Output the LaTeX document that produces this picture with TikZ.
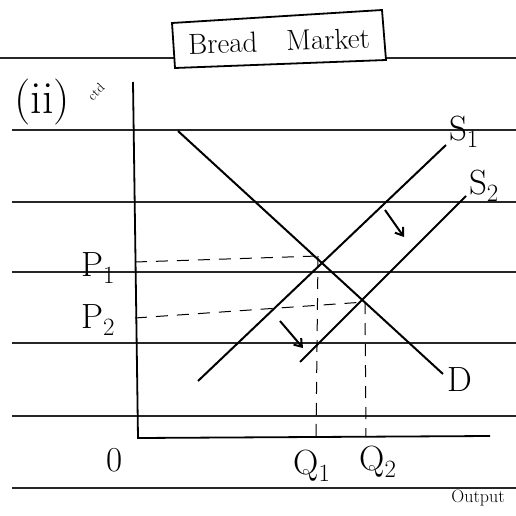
\documentclass[tikz,border=0pt]{standalone}
\usetikzlibrary{arrows.meta}
\begin{document}
\begin{tikzpicture}[x=1pt,y=-1pt,
  rule/.style={line width=1.6pt,black!85},
  curve/.style={line width=2pt},
  guide/.style={line width=1pt,dash pattern=on 12pt off 9pt},
  lab/.style={font=\fontsize{35}{37}\selectfont,inner sep=1pt},
  shiftarrow/.style={line width=2pt,-{Straight Barb[length=7pt,width=10pt]}}]
\useasboundingbox (0,0) rectangle (516,516);
% ruled lines
\foreach \yy/\x in {58/0,130/12,202/12,272/12,343/12,416/12,488/12}
  \draw[rule] (\x,\yy) -- (516,\yy);
% title box
\coordinate (t1) at (172,23); \coordinate (t2) at (382,10);
\coordinate (t3) at (386,60); \coordinate (t4) at (175,68);
\fill[white] (t1) -- (t2) -- (t3) -- (t4) -- cycle;
\draw[line width=1.8pt] (t1) -- (t2) -- (t3) -- (t4) -- cycle;
\node[font=\fontsize{29}{31}\selectfont,rotate=2] (title) at (279,41) {Bread\quad Market};
% label (ii)
\node[font=\fontsize{46}{48}\selectfont,inner sep=1pt] (ii) at (42,102) {(ii)};
\node[font=\fontsize{13}{14}\selectfont,rotate=45,inner sep=0pt] (ctd) at (96,92) {ctd};
% axes
\coordinate (ytop) at (133,82);
\coordinate (orig) at (138,438);
\coordinate (xend) at (490,436);
\draw[line width=1.8pt] (ytop) -- (orig) -- (xend);
% curves
\coordinate (d1) at (178,131); \coordinate (d2) at (443,374);
\coordinate (sa1) at (198,381); \coordinate (sa2) at (446,145);
\coordinate (sb1) at (300,362); \coordinate (sb2) at (466,196);
\draw[curve] (d1) -- (d2);
\draw[curve] (sa1) -- (sa2);
\draw[curve] (sb1) -- (sb2);
% equilibria
\coordinate (e1) at (318,256);
\coordinate (e2) at (365,302);
\coordinate (p1) at (135,262);
\coordinate (p2) at (135,318);
\coordinate (q1) at (316,437);
\coordinate (q2) at (366,437);
\draw[guide] (p1) -- (e1);
\draw[guide] (p2) -- (e2);
\draw[guide] (e1) -- (q1);
\draw[guide] (e2) -- (q2);
% shift arrows
\coordinate (a1) at (385,210); \coordinate (a2) at (404,237);
\coordinate (b1) at (280,321); \coordinate (b2) at (303,348);
\draw[shiftarrow] (a1) -- (a2);
\draw[shiftarrow] (b1) -- (b2);
% labels
\node[lab] (P1) at (98,268) {P$_1$};
\node[lab] (P2) at (98,320) {P$_2$};
\node[lab] (O) at (115,460) {0};
\node[lab] (Q1) at (312,466) {Q$_1$};
\node[lab] (Q2) at (378,462) {Q$_2$};
\node[lab] (S1) at (464,132) {S$_1$};
\node[lab] (S2) at (484,186) {S$_2$};
\node[lab] (D) at (460,380) {D};
\node[font=\fontsize{18}{20}\selectfont] (out) at (478,498) {Output};
\end{tikzpicture}
\end{document}
